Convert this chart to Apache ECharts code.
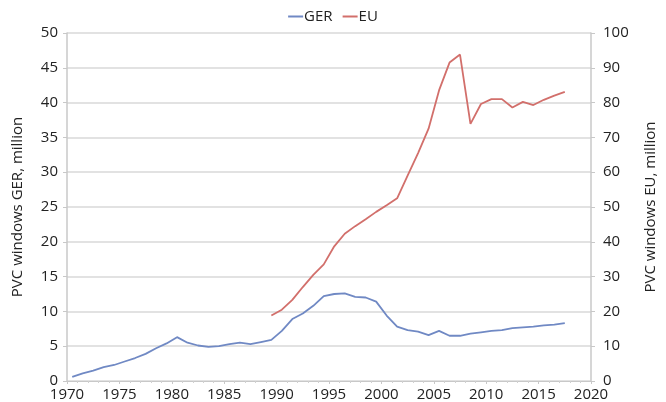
<!DOCTYPE html>
<html>
<head>
<meta charset="utf-8">
<script src="https://cdn.jsdelivr.net/npm/echarts@6/dist/echarts.min.js"></script>
<style>
html,body{margin:0;padding:0;background:#fff;}
#chart{width:666px;height:402px;}
</style>
</head>
<body>
<div id="chart"></div>
<script>
// Years and values
const gerYears = [1970,1971,1972,1973,1974,1975,1976,1977,1978,1979,1980,1981,1982,1983,1984,1985,1986,1987,1988,1989,1990,1991,1992,1993,1994,1995,1996,1997,1998,1999,2000,2001,2002,2003,2004,2005,2006,2007,2008,2009,2010,2011,2012,2013,2014,2015,2016,2017];
const gerValues = [0.6,1.1,1.5,2.0,2.3,2.8,3.3,3.9,4.7,5.4,6.3,5.5,5.1,4.9,5.0,5.3,5.5,5.3,5.6,5.9,7.2,8.9,9.7,10.8,12.2,12.5,12.6,12.1,12.0,11.4,9.4,7.8,7.3,7.1,6.6,7.2,6.5,6.5,6.8,7.0,7.2,7.3,7.6,7.7,7.8,8.0,8.1,8.3];
const euYears = [1989,1990,1991,1992,1993,1994,1995,1996,1997,1998,1999,2000,2001,2002,2003,2004,2005,2006,2007,2008,2009,2010,2011,2012,2013,2014,2015,2016,2017];
const euValues = [18.8,20.5,23.3,27.0,30.5,33.5,38.7,42.3,44.5,46.5,48.6,50.5,52.5,59.0,65.5,72.5,83.5,91.5,93.8,73.9,79.6,81.0,81.0,78.6,80.2,79.3,80.8,82.0,83.1];
const seriesNames = ['GER','EU'];
const leftAxisName = 'PVC windows GER, million';
const rightAxisName = 'PVC windows EU, million';

const font = "'Open Sans', 'Liberation Sans', sans-serif";
const chart = echarts.init(document.getElementById('chart'), null, {renderer:'canvas'});
const zip = (xs, ys) => xs.map((x,i)=>[x, ys[i]]);
chart.setOption({
  animation:false,
  backgroundColor:'#fff',
  textStyle:{fontFamily:font},
  grid:{left:67, right:63, top:33, bottom:21, containLabel:false},
  legend:{
    top:4, left:'center', itemGap:10, itemWidth:15, itemHeight:2, icon:'rect',
    textStyle:{fontSize:15, color:'#222', fontFamily:font, padding:[0,0,0,-4]},
    data:seriesNames
  },
  xAxis:{
    type:'value', min:1969.5, max:2019.5, interval:5,
    axisLine:{show:true, lineStyle:{color:'#c8c8c8', width:1}},
    axisTick:{show:true, length:3, lineStyle:{color:'#c8c8c8'}},
    minorTick:{show:true, splitNumber:5, length:2, lineStyle:{color:'#d0d0d0'}},
    splitLine:{show:false},
    axisLabel:{fontSize:15, color:'#222', margin:6, formatter:v=>String(Math.round(v+0.5))}
  },
  yAxis:[
    {
      type:'value', min:0, max:50, interval:5, position:'left',
      name:leftAxisName, nameLocation:'middle', nameGap:42, nameRotate:90,
      nameTextStyle:{fontSize:15, color:'#222', fontFamily:font},
      axisLine:{show:true, lineStyle:{color:'#c8c8c8', width:1.5}},
      axisTick:{show:true, length:4, lineStyle:{color:'#c8c8c8'}},
      splitLine:{show:true, lineStyle:{color:'#d8d8d8', width:1.6}},
      axisLabel:{fontSize:15, color:'#222', margin:9}
    },
    {
      type:'value', min:0, max:100, interval:10, position:'right',
      name:rightAxisName, nameLocation:'middle', nameGap:52, nameRotate:90,
      nameTextStyle:{fontSize:15, color:'#222', fontFamily:font},
      axisLine:{show:true, lineStyle:{color:'#c8c8c8', width:1.5}},
      axisTick:{show:true, length:4, lineStyle:{color:'#c8c8c8'}},
      splitLine:{show:false},
      axisLabel:{fontSize:15, color:'#222', margin:12}
    }
  ],
  series:[
    {name:seriesNames[0], type:'line', yAxisIndex:0, data:zip(gerYears,gerValues), showSymbol:false, symbol:'none',
     lineStyle:{color:'#7089c4', width:1.8}, itemStyle:{color:'#7089c4'}},
    {name:seriesNames[1], type:'line', yAxisIndex:1, data:zip(euYears,euValues), showSymbol:false, symbol:'none',
     lineStyle:{color:'#d26f6b', width:1.8}, itemStyle:{color:'#d26f6b'}}
  ]
});
</script>
</body>
</html>
